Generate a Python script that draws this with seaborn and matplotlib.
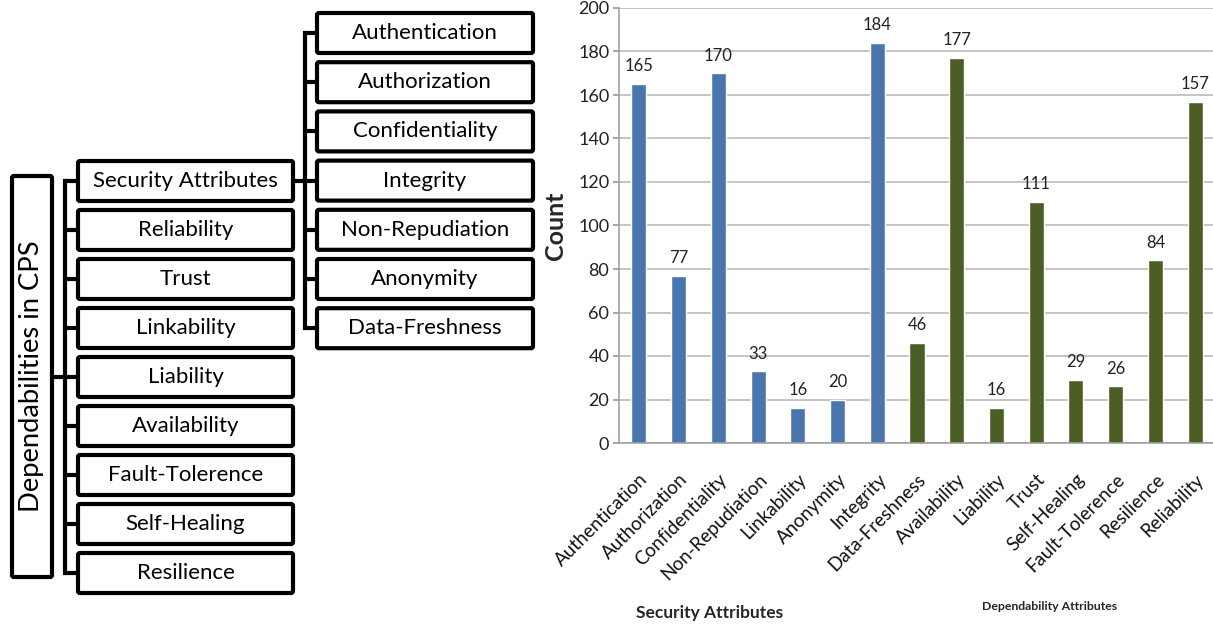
import matplotlib
matplotlib.use("Agg")
import matplotlib.pyplot as plt
from matplotlib.patches import FancyBboxPatch
import seaborn as sns
import pandas as pd

# ---- data ----
root_label = "Dependabilities in CPS"
branch_labels = ["Security Attributes", "Reliability", "Trust", "Linkability",
                 "Liability", "Availability", "Fault-Tolerence", "Self-Healing",
                 "Resilience"]
security_labels = ["Authentication", "Authorization", "Confidentiality",
                   "Integrity", "Non-Repudiation", "Anonymity", "Data-Freshness"]

categories = ["Authentication", "Authorization", "Confidentiality",
              "Non-Repudiation", "Linkability", "Anonymity", "Integrity",
              "Data-Freshness", "Availability", "Liability", "Trust",
              "Self-Healing", "Fault-Tolerence", "Resilience", "Reliability"]
counts = [165, 77, 170, 33, 16, 20, 184, 46, 177, 16, 111, 29, 26, 84, 157]
groups = ["Security"] * 7 + ["Dependability"] * 8
group_colors = {"Security": "#4a76b0", "Dependability": "#4b5e24"}

sns.set_theme(style="white")
plt.rcParams["font.family"] = ["Lato", "DejaVu Sans"]

W, H = 1213, 627
fig = plt.figure(figsize=(W / 100, H / 100), dpi=100)

# ---- hierarchy diagram (pixel coordinates) ----
tree = fig.add_axes([0, 0, 1, 1], zorder=0)
tree.set_xlim(0, W)
tree.set_ylim(H, 0)
tree.axis("off")

LW = 3.0
BOX_FS = 16


def box(ax, x0, y0, x1, y1):
    ax.add_patch(FancyBboxPatch((x0, y0), x1 - x0, y1 - y0,
                                boxstyle="round,pad=0,rounding_size=2",
                                fc="white", ec="black", lw=LW, zorder=2))


# root box
box(tree, 12, 176, 52, 577)
tree.text(32, 376, root_label, rotation=90, ha="center", va="center",
          fontsize=19.7, color="black", zorder=3)

# first level branches
trunk_x = 65
b_x0, b_x1 = 78, 293
b_y0, b_step, b_h = 181, 49, 40
b_centers = [b_y0 + i * b_step for i in range(len(branch_labels))]
tree.plot([trunk_x, trunk_x], [b_centers[0], b_centers[-1]], color="black",
          lw=LW, solid_capstyle="projecting", zorder=1)
tree.plot([52, trunk_x], [377, 377], color="black", lw=LW, zorder=1)
for yc, lab in zip(b_centers, branch_labels):
    tree.plot([trunk_x, b_x0], [yc, yc], color="black", lw=LW, zorder=1)
    box(tree, b_x0, yc - b_h / 2, b_x1, yc + b_h / 2)
    tree.text((b_x0 + b_x1) / 2, yc, lab, ha="center", va="center",
              fontsize=BOX_FS, color="black", zorder=3)

# second level under security attributes
sub_x = 305
s_x0, s_x1 = 317, 533
s_y0, s_step = 33, 49.2
s_centers = [s_y0 + i * s_step for i in range(len(security_labels))]
tree.plot([sub_x, sub_x], [s_centers[0], s_centers[-1]], color="black",
          lw=LW, solid_capstyle="projecting", zorder=1)
tree.plot([b_x1, sub_x], [b_centers[0], b_centers[0]], color="black",
          lw=LW, zorder=1)
for yc, lab in zip(s_centers, security_labels):
    tree.plot([sub_x, s_x0], [yc, yc], color="black", lw=LW, zorder=1)
    box(tree, s_x0, yc - b_h / 2, s_x1, yc + b_h / 2)
    tree.text((s_x0 + s_x1) / 2, yc, lab, ha="center", va="center",
              fontsize=BOX_FS, color="black", zorder=3)

# ---- bar chart ----
ax_l, ax_r, ax_t, ax_b = 619, 1213, 8, 443
ax = fig.add_axes([ax_l / W, (H - ax_b) / H, (ax_r - ax_l) / W,
                   (ax_b - ax_t) / H], zorder=1)
ax.patch.set_alpha(0)

df = pd.DataFrame({"attr": categories, "count": counts, "group": groups})
sns.barplot(data=df, x="attr", y="count", hue="group", palette=group_colors,
            order=categories, dodge=False, width=0.38, legend=False,
            saturation=1, ax=ax)
for cont in ax.containers:
    ax.bar_label(cont, padding=7, fontsize=12, color="#222222")

ax.set_ylim(0, 200)
ax.set_xlim(-0.5, len(categories) - 0.5 - 0.05)
ax.set_yticks(range(0, 201, 20))
ax.yaxis.grid(True, color="#b4b4b4", lw=1.1)
ax.set_axisbelow(True)
for s in ["top", "right"]:
    ax.spines[s].set_visible(False)
for s in ["left", "bottom"]:
    ax.spines[s].set_color("#9a9a9a")
    ax.spines[s].set_linewidth(1.1)
ax.tick_params(axis="y", left=True, length=4, color="#9a9a9a",
               labelsize=13, labelcolor="#222222", pad=3)
ax.tick_params(axis="x", bottom=False, labelsize=13.5, labelcolor="#111111",
               pad=14)
ax.set_xticks(range(len(categories)))
ax.set_xticklabels(categories, rotation=45, ha="right",
                   rotation_mode="anchor")
ax.set_xlabel("")
ax.set_ylabel("Count", fontsize=18, fontweight="bold", labelpad=8)

fig.text(710 / W, 1 - 613 / H, "Security Attributes", ha="center",
         va="center", fontsize=12.5, fontweight="bold")
fig.text(1050 / W, 1 - 607 / H, "Dependability Attributes", ha="center",
         va="center", fontsize=8.8, fontweight="bold")

fig.savefig("out.png", dpi=100)
